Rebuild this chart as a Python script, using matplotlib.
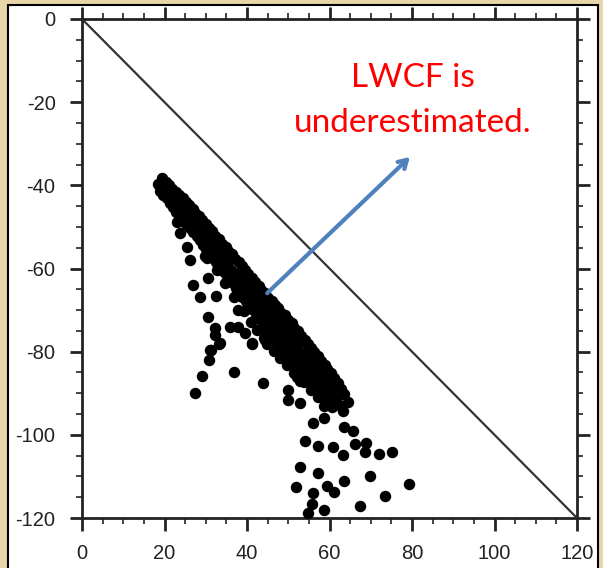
import numpy as np
import matplotlib.pyplot as plt
from matplotlib.patches import Rectangle

plt.rcParams['axes.unicode_minus'] = False

# dense band of points
band_x = [18.4, 18.9, 19.5, 19.2, 19.7, 20.3, 20.0, 20.5, 21.2, 20.9, 21.3,
          21.9, 21.6, 22.1, 22.8, 22.4, 22.9, 23.5, 23.2, 23.7, 24.4, 24.0, 24.5,
          25.1, 24.8, 25.3, 25.9, 25.6, 26.1, 26.8, 26.4, 26.9, 27.5, 27.2, 27.8,
          28.4, 28.0, 28.5, 29.1, 28.8, 29.3, 30.0, 29.6, 30.1, 29.7,
          30.7, 30.4, 30.9, 31.6, 31.2, 31.7, 32.3, 32.0, 32.5, 33.2, 32.8, 33.3,
          33.9, 33.6, 34.1, 34.8, 34.4, 34.9, 35.5, 35.2, 35.7, 36.4, 36.0, 36.5,
          37.1, 36.8, 37.3, 36.9, 38.0, 37.6, 38.1, 38.7, 38.4, 38.9,
          39.6, 39.2, 39.7, 39.3, 40.3, 40.0, 40.5, 41.2, 40.8, 41.3, 40.9,
          41.9, 41.6, 42.1, 42.8, 42.4, 42.9, 42.5, 43.5, 43.2, 43.7,
          44.4, 44.0, 44.5, 44.1, 45.1, 44.8, 45.3, 44.9, 46.0, 45.6, 46.1,
          46.7, 46.4, 46.9, 46.5, 47.6, 47.2, 47.7, 48.3, 48.0, 48.5, 48.1,
          49.2, 48.8, 49.3, 49.9, 49.6, 50.1, 49.7, 50.8, 50.4, 50.9,
          51.5, 51.2, 51.7, 51.3, 52.4, 52.0, 52.5, 53.1, 52.8, 53.3, 52.9,
          54.0, 53.6, 54.1, 54.7, 54.4, 54.9, 55.6, 55.2, 55.7, 56.3, 56.0, 56.5,
          57.2, 56.8, 57.3, 57.9, 57.6, 58.1, 58.8, 58.4, 58.9, 59.5, 59.2, 59.7,
          60.4, 60.0, 60.5, 61.1, 60.8, 62.0, 61.6, 62.7, 62.4, 63.6, 63.2, 64.4,
          38.2, 39.8, 41.4, 43.0, 44.6, 46.2, 47.8, 49.4, 51.0, 52.6, 54.2, 55.8,
          57.4, 59.0, 60.6, 62.2,
          38.5, 40.1, 41.7, 43.3, 44.9, 46.5, 48.1, 49.7, 51.3, 52.9, 54.5, 56.1,
          57.7, 59.3, 60.9,
          44.3, 45.9, 47.5, 49.1, 50.7, 52.3, 53.9, 55.5, 57.1, 58.7]
band_y = [-39.6, -41.3, -38.3, -40.4, -42.4, -39.2, -41.6, -43.1, -39.9, -42.2, -44.2,
          -40.8, -43.1, -45.3, -41.5, -44.0, -46.4, -42.4, -44.9, -47.1, -43.1, -45.9, -48.3,
          -44.0, -46.7, -49.2, -44.8, -47.4, -50.3, -45.6, -48.5, -51.2, -46.6, -49.4, -52.3,
          -47.4, -50.5, -53.1, -48.4, -51.3, -54.3, -49.2, -52.3, -55.2, -57.1,
          -50.3, -53.2, -56.3, -51.1, -54.3, -57.4, -52.1, -55.1, -58.5, -52.9, -56.3, -59.2,
          -54.0, -57.2, -60.5, -54.8, -58.3, -61.4, -55.8, -59.2, -62.6, -56.6, -60.3, -63.4,
          -57.6, -61.2, -64.7, -66.8, -58.4, -62.3, -65.7, -59.5, -63.2, -66.8,
          -60.3, -64.3, -67.7, -70.3, -61.4, -65.2, -68.9, -62.2, -66.3, -69.8, -72.8,
          -63.2, -67.2, -70.9, -64.1, -68.3, -71.8, -74.8, -65.2, -69.2, -72.9,
          -65.9, -70.3, -73.8, -76.8, -67.0, -71.2, -74.9, -78.1, -67.8, -72.1, -75.8,
          -68.8, -73.1, -76.9, -79.8, -69.6, -74.1, -77.8, -70.6, -75.1, -78.9, -81.6,
          -71.3, -76.0, -79.8, -72.4, -76.9, -80.9, -83.3, -73.2, -77.8, -81.7,
          -74.2, -78.8, -82.8, -85.1, -75.1, -79.7, -83.6, -76.2, -80.7, -84.7, -87.1,
          -77.1, -81.7, -85.6, -78.2, -82.7, -86.7, -79.1, -83.7, -87.6, -80.2, -84.5, -88.5,
          -81.1, -85.3, -89.3, -82.2, -86.3, -90.3, -83.1, -87.3, -91.1, -84.2, -88.3, -92.1,
          -85.1, -89.3, -93.3, -86.4, -90.5, -87.5, -91.7, -89.0, -92.9, -90.3, -94.3, -92.1,
          -61.0, -62.8, -64.6, -66.6, -68.4, -70.3, -72.2, -74.1, -76.0, -78.0, -80.0, -82.0,
          -84.0, -86.0, -88.0, -90.2,
          -64.9, -66.7, -68.8, -70.8, -72.9, -74.9, -76.9, -78.7, -80.6, -82.5, -84.4, -86.3,
          -88.2, -90.0, -92.0,
          -75.4, -77.2, -79.2, -81.1, -83.0, -85.4, -87.2, -89.2, -90.8, -93.0]

# scattered points off the band
scatter_x = [27.4, 29.1, 30.8, 31.3, 33.2, 36.8, 41.2, 43.9, 44.4, 49.9,
             49.9, 52.8, 52.1, 56.0, 58.7, 63.5, 65.7, 54.1, 57.2, 60.8,
             63.3, 66.2, 68.8, 68.6, 72.0, 75.2, 52.8, 57.2, 63.5, 69.8,
             79.3, 51.9, 59.4, 61.1, 56.0, 73.5, 55.8, 67.4, 58.7, 54.8,
             23.0, 23.8, 25.5, 26.2, 26.9, 30.5, 30.3, 32.7, 34.7, 28.6,
             32.5, 30.5, 32.2, 32.2, 33.5, 31.0, 35.9, 37.8, 39.5, 41.2,
             37.8, 39.0]
scatter_y = [-89.9, -85.9, -82.0, -79.6, -78.2, -84.9, -78.2, -87.5, -77.2, -89.2,
             -91.6, -92.4, -86.1, -97.2, -96.0, -98.1, -99.1, -101.5, -102.7, -102.9,
             -104.9, -102.2, -102.0, -104.1, -104.6, -104.1, -107.7, -109.2, -111.1, -109.9,
             -111.8, -112.6, -112.3, -113.8, -114.0, -114.7, -116.6, -117.1, -118.1, -118.8,
             -48.8, -51.5, -54.8, -58.0, -64.0, -62.3, -57.5, -60.4, -63.5, -66.9,
             -66.6, -71.7, -74.3, -76.0, -77.9, -79.6, -74.1, -74.1, -75.5, -77.9,
             -70.0, -65.9]

ticks = [0, 20, 40, 60, 80, 100, 120]

fig = plt.figure(figsize=(6.03, 5.68), dpi=100, facecolor='#e8d6aa')
# white slide panel behind the chart
fig.patches.append(Rectangle((8 / 603, -0.02), 590 / 603, 1.02 - 5 / 568,
                             transform=fig.transFigure, facecolor='white',
                             edgecolor='black', linewidth=1.5, zorder=-5))

ax = fig.add_axes([82 / 603, 50 / 568, 495 / 603, 499 / 568])
ax.set_zorder(2)
ax.set_facecolor('white')
ax.plot([0, 120], [0, -120], color='#333333', linewidth=1.6, zorder=2)
ax.scatter(band_x + scatter_x, band_y + scatter_y, s=68, color='black',
           linewidths=0, zorder=3)

ax.set_xlim(0, 120)
ax.set_ylim(-120, 0)
ax.set_xticks(ticks)
ax.set_yticks([-t for t in ticks])
ax.set_xticks(np.arange(0, 121, 5), minor=True)
ax.set_yticks(np.arange(-120, 1, 5), minor=True)
ax.tick_params(which='both', direction='out', top=True, right=True,
               color='#222222', labelcolor='#222222')
ax.tick_params(which='major', length=9, width=2, labelsize=14.5, pad=10)
ax.tick_params(which='minor', length=4.5, width=1.2)
ax.tick_params(top=True, right=True, labeltop=False, labelright=False)
for lab in ax.get_xticklabels() + ax.get_yticklabels():
    lab.set_fontfamily('Liberation Sans')
for sp in ax.spines.values():
    sp.set_linewidth(2)
    sp.set_color('#222222')

ax.text(80.2, -14.2, 'LWCF is', color='red', fontsize=24, family='Lato',
        ha='center', va='center')
ax.text(80.2, -25.0, 'underestimated.', color='red', fontsize=24, family='Lato',
        ha='center', va='center')
ax.annotate('', xy=(80.0, -32.7), xytext=(44.4, -66.4),
            arrowprops=dict(arrowstyle='->,head_length=0.6,head_width=0.35',
                            color='#4f81bd', linewidth=3), zorder=4)

fig.savefig('out.png', dpi=100, facecolor=fig.get_facecolor())
